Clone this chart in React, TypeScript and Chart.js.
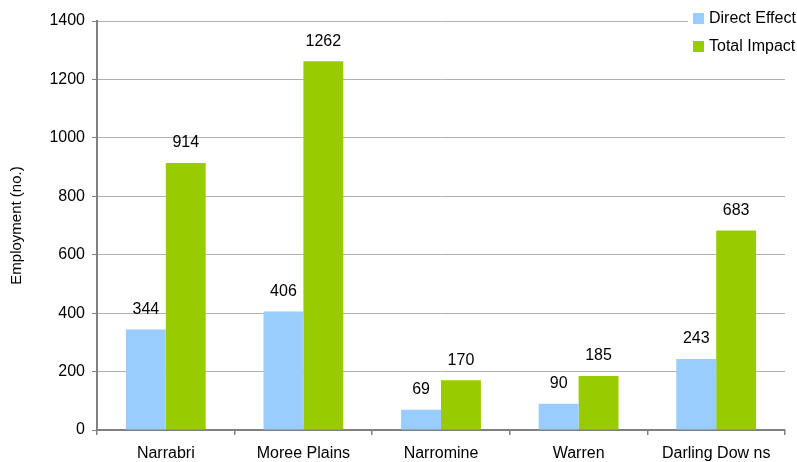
import React, { useEffect, useRef } from "react";
import { Chart, registerables } from "chart.js";

Chart.register(...registerables);

const categories = ["Narrabri", "Moree Plains", "Narromine", "Warren", "Darling Dow ns"];
const directEffect = [344, 406, 69, 90, 243];
const totalImpact = [914, 1262, 170, 185, 683];
const seriesNames = ["Direct Effect", "Total Impact"];
const seriesColors = ["#99CCFF", "#99CC00"];
const yTicks = [0, 200, 400, 600, 800, 1000, 1200, 1400];

const FONT = "'Liberation Sans', Arial, sans-serif";
const FONT_SIZE = 16;

// Writes each bar's value above it
const valueLabels = {
  id: "valueLabels",
  afterDatasetsDraw(chart: any) {
    const ctx = chart.ctx;
    ctx.save();
    ctx.font = `${FONT_SIZE}px ${FONT}`;
    ctx.fillStyle = "#000";
    ctx.textAlign = "center";
    ctx.textBaseline = "middle";
    chart.data.datasets.forEach((ds: any, i: number) => {
      const meta = chart.getDatasetMeta(i);
      meta.data.forEach((bar: any, j: number) => {
        ctx.fillText(String(ds.data[j]), bar.x, bar.y - 20);
      });
    });
    ctx.restore();
  },
};

// Legend box in the top-right corner, over the plot
const cornerLegend = {
  id: "cornerLegend",
  afterDraw(chart: any) {
    const ctx = chart.ctx;
    ctx.save();
    ctx.fillStyle = "#fff";
    ctx.fillRect(688, 0, 109, 64);
    ctx.font = `${FONT_SIZE}px ${FONT}`;
    ctx.textAlign = "left";
    ctx.textBaseline = "middle";
    seriesNames.forEach((name, i) => {
      const y = 13 + i * 28;
      ctx.fillStyle = seriesColors[i];
      ctx.fillRect(693, y, 11, 11);
      ctx.fillStyle = "#000";
      ctx.fillText(name, 709, y + 6);
    });
    ctx.restore();
  },
};

export default function App() {
  const canvasRef = useRef<HTMLCanvasElement | null>(null);

  useEffect(() => {
    document.body.style.margin = "0";
    const canvas = canvasRef.current;
    if (!canvas) return;
    const chart = new Chart(canvas, {
      type: "bar",
      data: {
        labels: categories,
        datasets: [
          {
            label: seriesNames[0],
            data: directEffect,
            backgroundColor: seriesColors[0],
            barPercentage: 1.0,
            categoryPercentage: 0.58,
          },
          {
            label: seriesNames[1],
            data: totalImpact,
            backgroundColor: seriesColors[1],
            barPercentage: 1.0,
            categoryPercentage: 0.58,
          },
        ],
      },
      options: {
        responsive: false,
        animation: false,
        devicePixelRatio: 1,
        layout: { padding: { top: 21, right: 12, left: 0, bottom: 0 } },
        plugins: {
          legend: { display: false },
          tooltip: { enabled: false },
        },
        scales: {
          x: {
            grid: {
              drawOnChartArea: false,
              offset: true,
              tickLength: 5,
              tickColor: "#808080",
              lineWidth: 1.5,
            },
            border: { color: "#808080", width: 2 },
            ticks: {
              color: "#000",
              font: { family: FONT, size: FONT_SIZE },
              padding: 9,
            },
            afterFit(scale: any) {
              scale.height = 32;
            },
          },
          y: {
            min: 0,
            max: 1400,
            afterBuildTicks(scale: any) {
              scale.ticks = yTicks.map((v) => ({ value: v }));
            },
            grid: {
              color: "#b0b0b0",
              lineWidth: 1,
              tickLength: 5,
              tickColor: "#808080",
            },
            border: { color: "#808080", width: 2 },
            ticks: {
              color: "#000",
              font: { family: FONT, size: FONT_SIZE },
              padding: 7,
              callback: (v: any) => String(v),
            },
            title: {
              display: true,
              text: "Employment (no.)",
              color: "#000",
              font: { family: FONT, size: 15 },
              padding: { top: 8, bottom: 0 },
            },
            afterFit(scale: any) {
              scale.width = 97;
            },
          },
        },
      },
      plugins: [valueLabels, cornerLegend],
    });
    return () => chart.destroy();
  }, []);

  return <canvas ref={canvasRef} width={797} height={462} />;
}
